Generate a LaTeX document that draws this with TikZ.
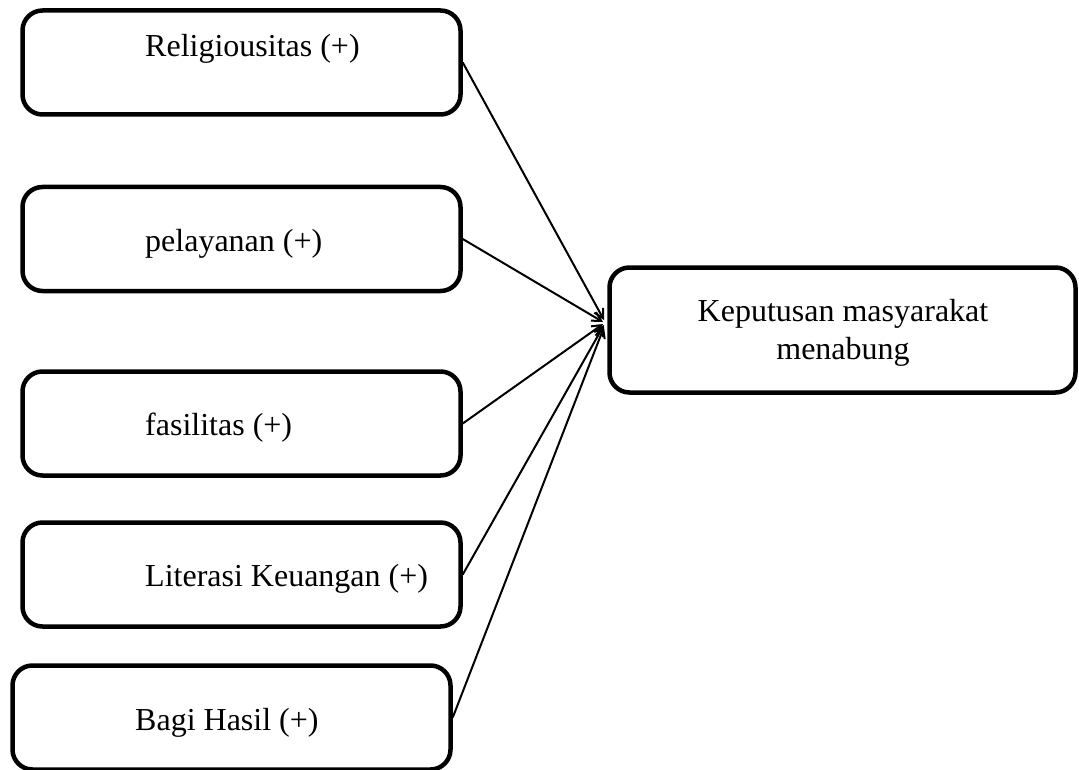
\documentclass[tikz,border=0pt]{standalone}
\usepackage{fontspec}
\setmainfont{Liberation Serif}
\usetikzlibrary{arrows.meta}
\begin{document}
\begin{tikzpicture}[x=1pt,y=-1pt,
  vbox/.style={draw, line width=4.5pt, rounded corners=20pt, inner sep=0pt,
    minimum width=438pt, minimum height=104pt},
  lbl/.style={anchor=base west, inner sep=0pt, font=\fontsize{32}{38}\selectfont},
  conn/.style={line width=2pt, -{Straight Barb[length=9pt,width=10pt]}}]
\useasboundingbox (0,0) rectangle (1079,770);
\node[vbox] (b1) at (241.5,62.5) {};
\node[vbox] (b2) at (241.5,239) {};
\node[vbox] (b3) at (241.5,423.5) {};
\node[vbox] (b4) at (241.5,574.5) {};
\node[vbox] (b5) at (231.5,717.5) {};
\node[vbox, minimum width=466pt, minimum height=125pt] (rb) at (842.5,330) {};
\node[lbl] (t1) at (145,56.7) {Religiousitas (+)};
\node[lbl] (t2) at (145,251.7) {pelayanan (+)};
\node[lbl] (t3) at (145,435) {fasilitas (+)};
\node[lbl] (t4) at (145,586.7) {Literasi Keuangan (+)};
\node[lbl] (t5) at (135,730) {Bagi Hasil (+)};
\node[anchor=base, inner sep=0pt, font=\fontsize{32}{38}\selectfont] (r1) at (843,321.7) {Keputusan masyarakat};
\node[anchor=base, inner sep=0pt, font=\fontsize{32}{38}\selectfont] (r2) at (843,359.7) {menabung};
\coordinate (e1) at (604,320);
\coordinate (e2) at (603,322);
\coordinate (e3) at (603,324);
\coordinate (e4) at (604,325);
\coordinate (e5) at (604,327);
\draw[conn] (b1.east) -- (e1);
\draw[conn] (b2.east) -- (e2);
\draw[conn] (b3.east) -- (e3);
\draw[conn] (b4.east) -- (e4);
\draw[conn] (b5.east) -- (e5);
\end{tikzpicture}
\end{document}
